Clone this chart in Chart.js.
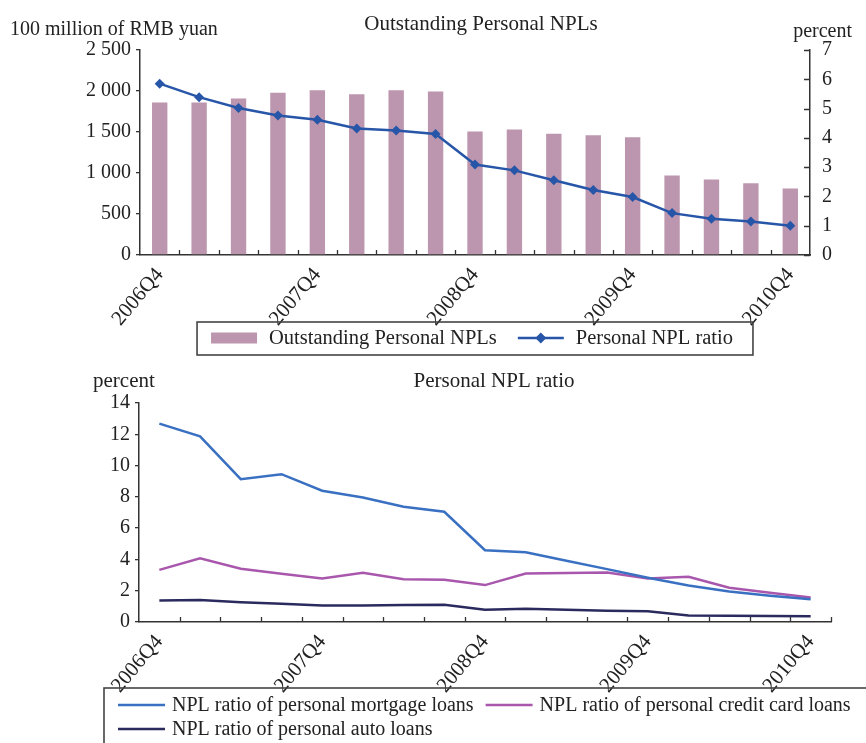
<!DOCTYPE html>
<html>
<head>
<meta charset="utf-8">
<script src="https://cdn.jsdelivr.net/npm/chart.js@4"></script>
<style>
  html, body { margin: 0; padding: 0; background: #fff; }
  #wrap { position: relative; width: 866px; height: 743px; overflow: hidden; }
  #top { position: absolute; left: 0; top: 0; }
  #bottom { position: absolute; left: 0; top: 360px; }
</style>
</head>
<body>
<div id="wrap">
  <canvas id="top" width="866" height="360"></canvas>
  <canvas id="bottom" width="866" height="383"></canvas>
</div>
<script>
const quarters = ['2006Q4', '2007Q1', '2007Q2', '2007Q3', '2007Q4', '2008Q1', '2008Q2', '2008Q3', '2008Q4',
  '2009Q1', '2009Q2', '2009Q3', '2009Q4', '2010Q1', '2010Q2', '2010Q3', '2010Q4'];

// top chart: 100 million of RMB yuan / percent
const outstandingNPLs = [1860, 1860, 1910, 1980, 2010, 1960, 2010, 1995, 1505, 1530, 1480, 1460, 1435, 970, 920, 875, 810];
const personalNPLRatio = [5.85, 5.39, 5.02, 4.76, 4.62, 4.32, 4.25, 4.13, 3.09, 2.89, 2.55, 2.22, 1.98, 1.43, 1.24, 1.14, 1.00];

// bottom chart: percent
const mortgageRatio = [12.68, 11.87, 9.13, 9.45, 8.39, 7.96, 7.37, 7.05, 4.59, 4.46, 3.92, 3.38, 2.83, 2.33, 1.95, 1.68, 1.45];
const creditCardRatio = [3.33, 4.08, 3.40, 3.08, 2.78, 3.14, 2.74, 2.70, 2.36, 3.10, 3.14, 3.16, 2.78, 2.89, 2.19, 1.87, 1.57];
const autoRatio = [1.38, 1.40, 1.27, 1.17, 1.06, 1.06, 1.08, 1.10, 0.79, 0.85, 0.78, 0.72, 0.68, 0.42, 0.40, 0.38, 0.36];

const FONT = "'Liberation Serif', 'Times New Roman', serif";
const AXIS = '#333';

// every 4th quarter gets a label
const showYearEnd = (v, i) => (i % 4 === 0 ? quarters[i] : '');
const spaced = v => String(v).replace(/\B(?=(\d{3})+$)/, ' ');

// small ticks pointing into the plot (x axis at category edges, right axis to the left)
const innerTicks = {
  id: 'innerTicks',
  afterDatasetsDraw(chart, args, opts) {
    const ctx = chart.ctx;
    const x = chart.scales.x;
    const n = x.ticks.length;
    const step = x.width / n;
    ctx.save();
    ctx.strokeStyle = AXIS;
    ctx.lineWidth = 1.3;
    ctx.beginPath();
    const last = opts.endTick ? n : n - 1;
    for (let i = 1; i <= last; i++) {
      const px = Math.round(x.left + i * step) + 0.5;
      ctx.moveTo(px, x.top);
      ctx.lineTo(px, x.top - 5);
    }
    const y1 = chart.scales.y1;
    if (y1) {
      y1.ticks.forEach(t => {
        const py = Math.round(y1.getPixelForValue(t.value)) + 0.5;
        ctx.moveTo(y1.left, py);
        ctx.lineTo(y1.left - 6, py);
      });
    }
    ctx.stroke();
    ctx.restore();
  }
};

// free text: titles and unit labels
const texts = {
  id: 'texts',
  afterDraw(chart, args, opts) {
    const ctx = chart.ctx;
    ctx.save();
    ctx.fillStyle = '#222';
    ctx.textBaseline = 'middle';
    (opts.items || []).forEach(t => {
      ctx.font = (t.size || 19) + 'px ' + FONT;
      ctx.textAlign = t.align || 'left';
      ctx.fillText(t.text, t.x, t.y);
    });
    ctx.restore();
  }
};

// boxed legend built from the datasets
const boxLegend = {
  id: 'boxLegend',
  afterDraw(chart, args, opts) {
    const ctx = chart.ctx;
    const ds = chart.data.datasets;
    ctx.save();
    ctx.font = opts.size + 'px ' + FONT;
    ctx.textBaseline = 'middle';
    ctx.fillStyle = '#222';
    const rows = opts.rows;
    let boxW;
    if (opts.centered) {
      // single row, centred on the plot area
      const items = rows[0];
      let w = opts.padL;
      items.forEach((k, j) => {
        w += opts.sym + opts.gap + ctx.measureText(ds[k].label).width;
        if (j < items.length - 1) w += opts.itemGap;
      });
      w += opts.padR;
      boxW = w;
    } else {
      boxW = opts.width;
    }
    const cx = (chart.chartArea.left + chart.chartArea.right) / 2;
    const left = opts.centered ? cx - boxW / 2 : opts.left;
    ctx.strokeStyle = '#444';
    ctx.lineWidth = 1.6;
    ctx.strokeRect(left, opts.top, boxW, opts.height);
    rows.forEach((items, r) => {
      const y = opts.top + opts.rowY[r];
      let x = left + opts.padL;
      items.forEach(k => {
        const d = ds[k];
        if (d.type === 'bar') {
          ctx.fillStyle = d.backgroundColor;
          ctx.fillRect(x, y - 5.5, opts.sym, 11);
        } else {
          ctx.strokeStyle = d.borderColor;
          ctx.lineWidth = d.borderWidth;
          ctx.beginPath();
          ctx.moveTo(x, y);
          ctx.lineTo(x + opts.sym, y);
          ctx.stroke();
          if (d.pointRadius) {
            const r0 = d.pointRadius + 0.5;
            const mx = x + opts.sym / 2;
            ctx.fillStyle = d.borderColor;
            ctx.beginPath();
            ctx.moveTo(mx, y - r0);
            ctx.lineTo(mx + r0, y);
            ctx.lineTo(mx, y + r0);
            ctx.lineTo(mx - r0, y);
            ctx.closePath();
            ctx.fill();
          }
        }
        x += opts.sym + opts.gap;
        ctx.fillStyle = '#222';
        ctx.fillText(d.label, x, y + 1);
        x += ctx.measureText(d.label).width + opts.itemGap;
      });
    });
    ctx.restore();
  }
};

const xScale = height => ({
  type: 'category',
  offset: true,
  grid: { display: false, offset: true },
  border: { display: true, color: AXIS, width: 1.5 },
  afterFit: s => { s.height = height; },
  ticks: {
    autoSkip: false,
    maxRotation: 50,
    minRotation: 50,
    padding: 0,
    color: '#222',
    font: { family: FONT, size: 21 },
    callback: showYearEnd
  }
});

new Chart(document.getElementById('top'), {
  data: {
    labels: quarters,
    datasets: [
      {
        type: 'line',
        label: 'Personal NPL ratio',
        data: personalNPLRatio,
        yAxisID: 'y1',
        borderColor: '#2756a8',
        backgroundColor: '#2756a8',
        borderWidth: 2.5,
        pointStyle: 'rectRot',
        pointRadius: 5,
        pointBorderWidth: 0,
        tension: 0
      },
      {
        type: 'bar',
        label: 'Outstanding Personal NPLs',
        data: outstandingNPLs,
        yAxisID: 'y',
        backgroundColor: '#bc96ae',
        barPercentage: 0.39,
        categoryPercentage: 1
      }
    ]
  },
  options: {
    responsive: false,
    animation: false,
    events: [],
    layout: { padding: { top: 50, left: 0, right: 0, bottom: 0 } },
    scales: {
      x: xScale(105),
      y: {
        position: 'left',
        min: 0,
        max: 2500,
        afterFit: s => { s.width = 140; },
        grid: { drawOnChartArea: false, drawTicks: true, tickLength: 4, color: AXIS, lineWidth: 1.3 },
        border: { display: true, color: AXIS, width: 1.5 },
        ticks: { stepSize: 500, padding: 5, color: '#222', font: { family: FONT, size: 20 }, callback: spaced }
      },
      y1: {
        position: 'right',
        min: 0,
        max: 7,
        afterFit: s => { s.width = 56; },
        grid: { display: false },
        border: { display: true, color: AXIS, width: 1.5 },
        ticks: { stepSize: 1, padding: 4, color: '#222', font: { family: FONT, size: 20 } }
      }
    },
    plugins: {
      legend: { display: false },
      tooltip: { enabled: false },
      innerTicks: { endTick: false },
      texts: {
        items: [
          { text: 'Outstanding Personal NPLs', x: 481, y: 24, align: 'center', size: 21 },
          { text: '100 million of RMB yuan', x: 10, y: 30, size: 20 },
          { text: 'percent', x: 852, y: 32, align: 'right', size: 20 }
        ]
      },
      boxLegend: {
        rows: [[1, 0]],
        centered: true,
        top: 322,
        height: 33,
        rowY: [16],
        padL: 14,
        padR: 20,
        sym: 46,
        gap: 12,
        itemGap: 21,
        size: 20.5
      }
    }
  },
  plugins: [innerTicks, texts, boxLegend]
});

new Chart(document.getElementById('bottom'), {
  type: 'line',
  data: {
    labels: quarters,
    datasets: [
      {
        label: 'NPL ratio of personal mortgage loans',
        data: mortgageRatio,
        borderColor: '#3a70c2',
        borderWidth: 2.5,
        pointRadius: 0,
        tension: 0
      },
      {
        label: 'NPL ratio of personal credit card loans',
        data: creditCardRatio,
        borderColor: '#a957ad',
        borderWidth: 2.5,
        pointRadius: 0,
        tension: 0
      },
      {
        label: 'NPL ratio of personal auto loans',
        data: autoRatio,
        borderColor: '#2b2a5e',
        borderWidth: 2.5,
        pointRadius: 0,
        tension: 0
      }
    ]
  },
  options: {
    responsive: false,
    animation: false,
    events: [],
    layout: { padding: { top: 43, left: 0, right: 35, bottom: 0 } },
    scales: {
      x: xScale(121),
      y: {
        min: 0,
        max: 14,
        afterFit: s => { s.width = 139; },
        grid: { drawOnChartArea: false, drawTicks: true, tickLength: 4, color: AXIS, lineWidth: 1.3 },
        border: { display: true, color: AXIS, width: 1.5 },
        ticks: { stepSize: 2, padding: 5, color: '#222', font: { family: FONT, size: 20 } }
      }
    },
    plugins: {
      legend: { display: false },
      tooltip: { enabled: false },
      innerTicks: { endTick: true },
      texts: {
        items: [
          { text: 'Personal NPL ratio', x: 494, y: 21, align: 'center', size: 21 },
          { text: 'percent', x: 93, y: 21, size: 21 }
        ]
      },
      boxLegend: {
        rows: [[0, 1], [2]],
        centered: false,
        left: 104,
        width: 820,
        top: 328,
        height: 80,
        rowY: [17, 41],
        padL: 14,
        padR: 0,
        sym: 47,
        gap: 7,
        itemGap: 12,
        size: 20
      }
    }
  },
  plugins: [innerTicks, texts, boxLegend]
});
</script>
</body>
</html>
